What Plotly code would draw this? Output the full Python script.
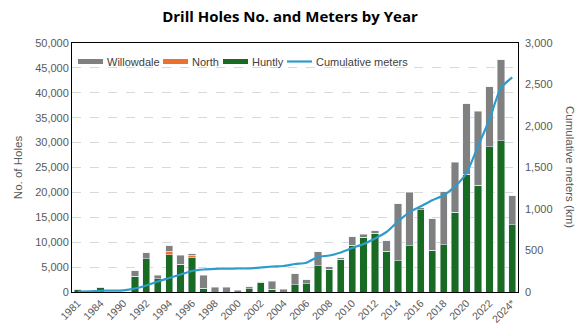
import plotly.graph_objects as go

years = ["1981", "1983", "1984", "1989", "1990", "1991", "1992", "1993", "1994", "1995",
         "1996", "1997", "1998", "1999", "2000", "2001", "2002", "2003", "2004", "2005",
         "2006", "2007", "2008", "2009", "2010", "2011", "2012", "2013", "2014", "2015",
         "2016", "2017", "2018", "2019", "2020", "2021", "2022", "2023", "2024*"]

huntly = [600, 0, 1000, 0, 0, 3150, 6700, 2700, 7500, 5550,
          6950, 740, 0, 0, 0, 670, 1950, 540, 0, 1470,
          1670, 5290, 4550, 6560, 9400, 10950, 11800, 8150, 6290, 9300,
          16530, 8370, 9500, 16000, 23630, 21420, 29180, 30390, 13520]

north = [0, 0, 0, 0, 0, 0, 0, 0, 670, 0,
         470, 0, 0, 0, 0, 0, 0, 0, 0, 0,
         0, 0, 0, 0, 0, 0, 0, 0, 0, 0,
         0, 0, 0, 0, 0, 0, 0, 0, 0]

willowdale = [0, 0, 0, 0, 0, 1150, 1200, 620, 1140, 1810,
              270, 2600, 940, 940, 330, 400, 150, 1600, 530, 2210,
              810, 2810, 540, 330, 1710, 600, 500, 2160, 11450, 10710,
              400, 6360, 10640, 10040, 14190, 14860, 12050, 16260, 5820]

cumulative_km = [5, 8, 15, 16, 20, 42, 78, 127, 169, 211,
                 253, 271, 278, 282, 283, 285, 295, 307, 313, 337,
                 353, 422, 440, 476, 530, 578, 645, 723, 850, 960,
                 1032, 1105, 1165, 1273, 1434, 1755, 2076, 2458, 2585]

left_ticks = [0, 5000, 10000, 15000, 20000, 25000, 30000, 35000, 40000, 45000, 50000]
right_ticks = [0, 500, 1000, 1500, 2000, 2500, 3000]

legend_names = ["Willowdale", "North", "Huntly", "Cumulative meters"]

GRAY = "#808080"
ORANGE = "#E97132"
GREEN = "#196B24"
BLUE = "#2E9BCB"
TXT = "#595959"
FONT = "Liberation Sans"

W, H = 580, 336
ML, MR, MT, MB = 72, 62, 43, 44
PW = W - ML - MR
PH = H - MT - MB


def px(x):
    return (x - ML) / PW


def py(y):
    return (H - MB - y) / PH


fig = go.Figure()
fig.add_trace(go.Bar(x=years, y=huntly, name="Huntly", marker_color=GREEN, showlegend=False))
fig.add_trace(go.Bar(x=years, y=north, name="North", marker_color=ORANGE, showlegend=False))
fig.add_trace(go.Bar(x=years, y=willowdale, name="Willowdale", marker_color=GRAY, showlegend=False))
fig.add_trace(go.Scatter(x=years, y=cumulative_km, name="Cumulative meters", mode="lines",
                         line=dict(color=BLUE, width=2.2, shape="spline", smoothing=0.6),
                         yaxis="y2", showlegend=False))

tick_years = years[::2]

# legend drawn as real text + key swatches inside the plot area
legend_colors = [GRAY, ORANGE, GREEN, BLUE]
legend_x = [78, 163, 223, 287]
legend_y = 61.5
shapes = []
annotations = []
for name, col, x0 in zip(legend_names, legend_colors, legend_x):
    if name == "Cumulative meters":
        shapes.append(dict(type="line", xref="paper", yref="paper",
                           x0=px(x0), x1=px(x0 + 25), y0=py(legend_y), y1=py(legend_y),
                           line=dict(color=col, width=2.2)))
    else:
        shapes.append(dict(type="rect", xref="paper", yref="paper",
                           x0=px(x0), x1=px(x0 + 25), y0=py(legend_y - 2.5), y1=py(legend_y + 2.5),
                           fillcolor=col, line=dict(width=0)))
    annotations.append(dict(text=name, xref="paper", yref="paper", x=px(x0 + 27), y=py(legend_y),
                            xanchor="left", yanchor="middle", showarrow=False,
                            font=dict(family=FONT, size=11, color="#404040")))

annotations.append(dict(text="Cumulative meters (km)", textangle=90, x=px(570), y=py(167),
                        xref="paper", yref="paper", showarrow=False, xanchor="center",
                        yanchor="middle", font=dict(family=FONT, size=11.5, color=TXT)))

fig.update_layout(
    width=W, height=H,
    margin=dict(l=ML, r=MR, t=MT, b=MB),
    paper_bgcolor="white", plot_bgcolor="white",
    barmode="stack", bargap=0.36,
    font=dict(family=FONT, size=11, color=TXT),
    title=dict(text="<b>Drill Holes No. and Meters by Year</b>", x=0.5, xanchor="center",
               y=0.95, yanchor="middle",
               font=dict(family="Open Sans", size=15, color="#000000")),
    showlegend=False,
    xaxis=dict(type="category", categoryorder="array", categoryarray=years,
               tickmode="array", tickvals=tick_years, ticktext=tick_years,
               tickangle=-45, tickfont=dict(size=10.5, color=TXT),
               showline=True, linecolor="#000000", linewidth=1, mirror=True,
               showgrid=False, ticks=""),
    yaxis=dict(range=[0, 50000], tickmode="array", tickvals=left_ticks,
               tickformat=",d", showgrid=True, gridcolor="#D9D9D9", griddash="dash",
               gridwidth=1, showline=True, linecolor="#000000", linewidth=1, mirror=True,
               zeroline=False, ticks="", ticklen=0,
               title=dict(text="No. of Holes", font=dict(size=11.5, color=TXT), standoff=10)),
    yaxis2=dict(range=[0, 3000], overlaying="y", side="right", tickmode="array",
                tickvals=right_ticks, tickformat=",d", showgrid=False, zeroline=False,
                showline=False, ticks="", ticklabelstandoff=6),
    shapes=shapes,
    annotations=annotations,
)

fig.write_html("out.html")
